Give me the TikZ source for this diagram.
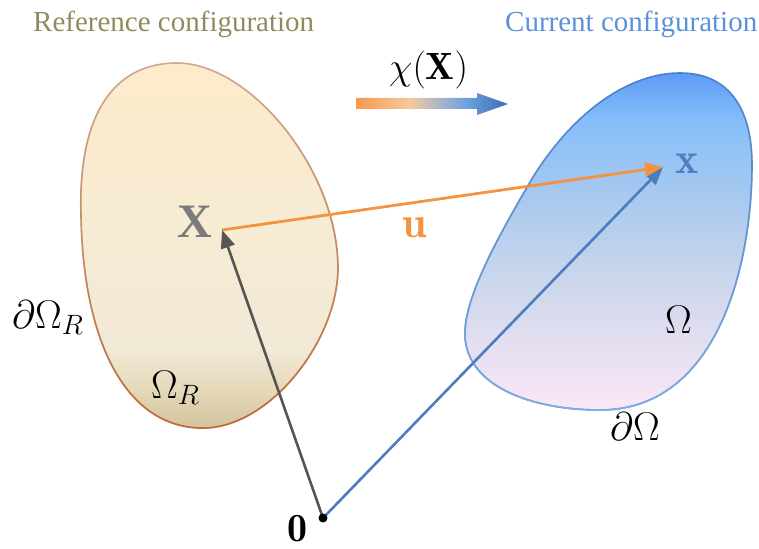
\RequirePackage{fix-cm}
\documentclass[tikz,border=0pt]{standalone}
\usepackage{fontspec}
\newfontfamily\tms{Liberation Serif}
\usetikzlibrary{fadings,arrows.meta}

\definecolor{refolive}{HTML}{928A5C}
\definecolor{curblue}{HTML}{5B91DA}
\definecolor{vgray}{HTML}{555555}
\definecolor{vblue}{HTML}{4A7EBE}
\definecolor{vorange}{HTML}{F5923F}
\definecolor{xgray}{HTML}{7B7B7B}
\definecolor{xblue}{HTML}{4F7FC0}
\definecolor{rbtop}{HTML}{CFA990}
\definecolor{rbbot}{HTML}{C06A35}
\definecolor{cbtop}{HTML}{4A80C6}
\definecolor{cbbot}{HTML}{80AEE4}

\definecolor{rb1}{HTML}{D4C49E}
\definecolor{rb2}{HTML}{E4D8B8}
\definecolor{rb3}{HTML}{F1EAD7}
\definecolor{rb4}{HTML}{F7EBD2}
\definecolor{rb5}{HTML}{FDEBCB}
\pgfdeclareverticalshading{refshade}{100bp}{color(0bp)=(rb1); color(25bp)=(rb1); color(30bp)=(rb2); color(36bp)=(rb3); color(56bp)=(rb4); color(75bp)=(rb5); color(100bp)=(rb5)}

\definecolor{cb1}{HTML}{FBE8F6}
\definecolor{cb2}{HTML}{EBE1F2}
\definecolor{cb3}{HTML}{CCD7EC}
\definecolor{cb4}{HTML}{A9CAEE}
\definecolor{cb5}{HTML}{86BEFA}
\definecolor{cb6}{HTML}{5E9CF6}
\pgfdeclareverticalshading{curshade}{100bp}{color(0bp)=(cb1); color(25bp)=(cb1); color(32bp)=(cb2); color(44bp)=(cb3); color(56bp)=(cb4); color(68bp)=(cb5); color(75bp)=(cb6); color(100bp)=(cb6)}

\definecolor{ch1}{HTML}{F59A4E}
\definecolor{ch2}{HTML}{F7C8A0}
\definecolor{ch3}{HTML}{A6B4C8}
\definecolor{ch4}{HTML}{6FA2E0}
\definecolor{ch5}{HTML}{3B6BAE}
\pgfdeclarehorizontalshading{chishade}{100bp}{color(0bp)=(ch1); color(25bp)=(ch1); color(43bp)=(ch2); color(53bp)=(ch3); color(61bp)=(ch4); color(75bp)=(ch5); color(100bp)=(ch5)}

\tikzfading[name=botopaque, top color=transparent!100, bottom color=transparent!0]

\tikzset{
  vec/.style={line width=2.6pt, -{Triangle[length=18pt,width=14pt]}},
  lbl/.style={anchor=base west, inner sep=0pt},
  mth/.style={lbl, font=\fontsize{40}{48}\selectfont},
  bmth/.style={lbl, font=\fontsize{44}{52}\selectfont},
  ttl/.style={lbl, font=\tms\fontsize{29}{34}\selectfont},
}

\def\refblob{(177,63) .. controls (250,63) and (338,170) .. (338,268)
  .. controls (338,340) and (270,428) .. (203,428)
  .. controls (125,428) and (83,340) .. (81,215)
  .. controls (78,120) and (110,63) .. cycle}
\def\curblob{(680,73) .. controls (730,73) and (752,110) .. (752,165)
  .. controls (752,260) and (720,410) .. (600,410)
  .. controls (530,410) and (462,385) .. (465,330)
  .. controls (467,290) and (505,225) .. (533,177)
  .. controls (575,110) and (630,73) .. cycle}

\begin{document}
\begin{tikzpicture}[x=1pt,y=-1pt]
\useasboundingbox (0,0) rectangle (759,548);

% reference body
\shadedraw[shading=refshade, draw=rbtop, line width=1.6pt] \refblob;
\draw[draw=rbbot, line width=1.6pt, path fading=botopaque] \refblob;

% current body
\shadedraw[shading=curshade, draw=cbtop, line width=1.6pt] \curblob;
\draw[draw=cbbot, line width=1.6pt, path fading=botopaque] \curblob;

% mapping arrow
\shade[shading=chishade] (356,98) -- (477,98) -- (477,93) -- (508,104) -- (477,115) -- (477,109) -- (356,109) -- cycle;

% titles
\node[ttl, text=refolive] (reft) at (33,32) {Reference configuration};
\node[ttl, text=curblue] (curt) at (505,32) {Current configuration};
\node[lbl, font=\fontsize{38}{44}\selectfont] (chi) at (389,80) {$\chi(\mathbf{X})$};

% points
\coordinate (Xp) at (222,230);
\coordinate (xp) at (663,167);
\coordinate (Oc) at (323,518);

\draw[vec, vblue] (Oc) -- (xp);
\draw[vec, vorange, line width=2.8pt] (Xp) -- (xp);
\draw[vec, vgray] (Oc) -- (Xp);
\node[circle, fill=black, inner sep=0pt, minimum size=9pt] (O) at (Oc) {};

% labels
\node[lbl, text=xgray, font=\tms\bfseries\fontsize{48}{54}\selectfont] (Xl) at (177,237) {X};
\node[bmth, text=vorange] (ul) at (402,237) {$\mathbf{u}$};
\node[bmth, text=xblue] (xl) at (675,173) {$\mathbf{x}$};
\node[mth] (dOR) at (12,328) {$\partial\Omega_R$};
\node[mth] (OR) at (151,398) {$\Omega_R$};
\node[mth] (Om) at (665,333) {$\Omega$};
\node[mth] (dOm) at (610,440) {$\partial\Omega$};
\node[mth] (zero) at (287,541) {$\mathbf{0}$};
\end{tikzpicture}
\end{document}
